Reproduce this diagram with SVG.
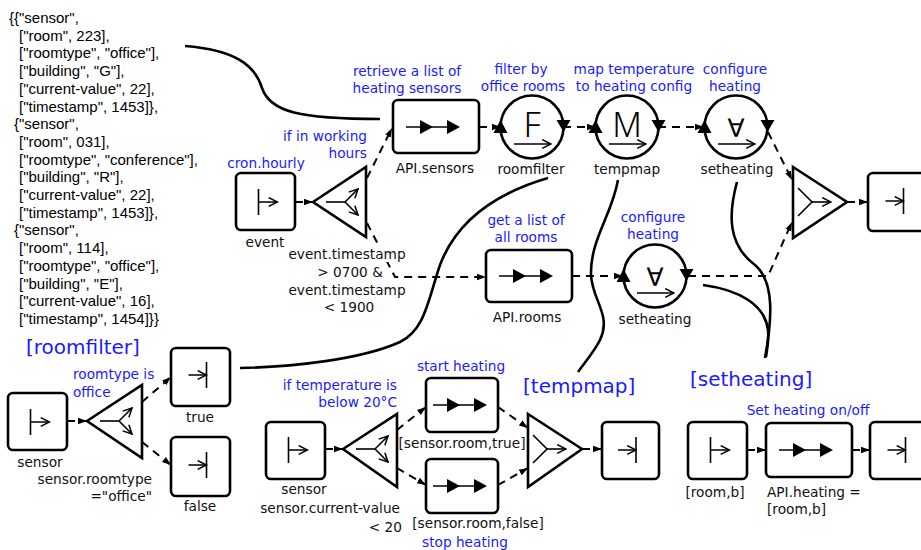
<svg xmlns="http://www.w3.org/2000/svg" width="921" height="550" viewBox="0 0 921 550">
<style>
.box{fill:#fff;stroke:#000;stroke-width:2.6}
.shp{fill:#fff;stroke:#000;stroke-width:2.6;stroke-linejoin:miter}
.ic{fill:none;stroke:#000;stroke-width:1.6}
.dash{fill:none;stroke:#000;stroke-width:2;stroke-dasharray:8 6;marker-end:url(#ah)}
.curve{fill:none;stroke:#000;stroke-width:2.6}
.lbl{font-family:"DejaVu Sans","Liberation Sans",sans-serif;font-size:13.7px;fill:#111}
.blue{fill:#1a1aff}
.ttl{font-family:"DejaVu Sans","Liberation Sans",sans-serif;font-size:20px;fill:#1a1aff}
.mid{text-anchor:middle}
.end{text-anchor:end}
.big{font-family:"Noto Sans","DejaVu Sans",sans-serif;font-weight:300;font-size:34px;fill:#000;text-anchor:middle}
.fa{font-family:"DejaVu Sans",sans-serif;font-weight:normal;font-size:25px;fill:#000;text-anchor:middle}
.data{font-family:"Liberation Sans",Arial,sans-serif;font-size:15px;fill:#000}
</style>
<defs>
<marker id="ah" viewBox="0 0 10 10" refX="10" refY="5" markerWidth="9" markerHeight="9" markerUnits="userSpaceOnUse" orient="auto"><path d="M0,1.5 L10,5 L0,8.5 z" fill="#000"/></marker>
<marker id="oa" viewBox="0 0 10 10" refX="9" refY="5" markerWidth="11" markerHeight="11" markerUnits="userSpaceOnUse" orient="auto"><path d="M1,1 L9,5 L1,9" fill="none" stroke="#000" stroke-width="1.4"/></marker>
<g id="i-start"><path class="ic" d="M-7,-13 V13 M-7,0 H12" marker-end="url(#oa)"/></g>
<g id="i-end"><path class="ic" d="M6,-13 V13 M-12,0 H6" marker-end="url(#oa)"/></g>
<g id="i-proc"><path class="ic" d="M-30,0 H22"/><polygon points="-16,-7 -3,0 -16,7" fill="#000"/><polygon points="11,-7 24,0 11,7" fill="#000"/></g>
<g id="i-split"><path class="ic" d="M13,0 H32"/><path class="ic" d="M32,0 L45,-13" marker-end="url(#oa)"/><path class="ic" d="M32,0 L45,13" marker-end="url(#oa)"/></g>
<g id="i-merge"><path class="ic" d="M5,-14 L19,0 L5,14"/><path class="ic" d="M19,0 H38" marker-end="url(#oa)"/></g>
<g id="loop"><circle r="31.5" fill="#fff" stroke="#000" stroke-width="2.6"/><polygon points="-38.5,6 -24.5,6 -31.5,-7" fill="#000"/><polygon points="24.5,-7 38.5,-7 31.5,5" fill="#000"/><path class="ic" d="M-18,17 H19" marker-end="url(#oa)"/></g>
</defs>
<rect width="921" height="550" fill="#fff"/>

<g id="data">
<text class="data" x="9" y="23">{{"sensor",</text>
<text class="data" x="19" y="40.7">["room", 223],</text>
<text class="data" x="19" y="58.4">["roomtype", "office"],</text>
<text class="data" x="19" y="76.1">["building", "G"],</text>
<text class="data" x="19" y="93.8">["current-value", 22],</text>
<text class="data" x="19" y="111.5">["timestamp", 1453]},</text>
<text class="data" x="14" y="129.2">{"sensor",</text>
<text class="data" x="19" y="146.9">["room", 031],</text>
<text class="data" x="19" y="164.6">["roomtype", "conference"],</text>
<text class="data" x="19" y="182.3">["building", "R"],</text>
<text class="data" x="19" y="200">["current-value", 22],</text>
<text class="data" x="19" y="217.7">["timestamp", 1453]},</text>
<text class="data" x="14" y="235.4">{"sensor",</text>
<text class="data" x="19" y="253.1">["room", 114],</text>
<text class="data" x="19" y="270.8">["roomtype", "office"],</text>
<text class="data" x="19" y="288.5">["building", "E"],</text>
<text class="data" x="19" y="306.2">["current-value", 16],</text>
<text class="data" x="19" y="323.9">["timestamp", 1454]}}</text>
</g>

<g id="connectors">
<g id="flows">
<path class="dash" d="M295,202 L313,202"/>
<path class="dash" d="M367,178 L392,128"/>
<path class="dash" d="M367,223 L395,277 L486,277"/>
<path class="dash" d="M479,127 L501,127"/>
<path class="dash" d="M563,127 L596,127"/>
<path class="dash" d="M658,127 L704,127"/>
<path class="dash" d="M768,132 L792,180"/>
<path class="dash" d="M572,276 L623,276"/>
<path class="dash" d="M688,276 L768,276 L792,222"/>
<path class="dash" d="M847,202 L868,202"/>
<path class="dash" d="M67,421 L87,421"/>
<path class="dash" d="M142,402 L171,377"/>
<path class="dash" d="M142,442 L171,465"/>
<path class="dash" d="M325,449 L343,449"/>
<path class="dash" d="M397,430 L426,407"/>
<path class="dash" d="M397,468 L426,485"/>
<path class="dash" d="M498,407 L528,428"/>
<path class="dash" d="M498,485 L528,468"/>
<path class="dash" d="M582,449 L602,449"/>
<path class="dash" d="M747,450 L766,450"/>
<path class="dash" d="M852,450 L870,450"/>
</g>
<g id="links">
<path class="curve" d="M185,46 C235,50 255,65 262,88 C270,112 300,119 380,119"/>
<path class="curve" d="M548,178 C490,195 455,225 440,265 C428,300 425,330 400,342 C360,360 290,367 240,368"/>
<path class="curve" d="M618,180 C612,215 590,240 591,275 C592,300 612,315 600,340 C594,352 585,362 578,372"/>
<path class="curve" d="M737,182 C728,215 728,245 755,265 C775,282 772,320 765,358"/>
<path class="curve" d="M703,285 C740,290 765,305 768,330 C769,340 767,350 766,357"/>
</g>
</g>

<g id="event">
<rect class="box" x="236" y="173" width="59" height="57" rx="5"/>
<use href="#i-start" x="265.5" y="202"/>
<text class="lbl blue mid" x="266" y="168">cron.hourly</text>
<text class="lbl mid" x="265" y="247">event</text>
</g>
<g id="working-hours">
<polygon class="shp" points="313,202 366,167 366,237"/>
<use href="#i-split" x="313" y="202"/>
<text class="lbl blue end" x="367" y="141">if in working</text>
<text class="lbl blue end" x="367" y="158">hours</text>
<rect x="288" y="246" width="117" height="16" fill="#fff"/>
<text class="lbl mid" x="347" y="259">event.timestamp</text>
<text class="lbl mid" x="350" y="277">&gt; 0700 &amp;</text>
<text class="lbl mid" x="347" y="295">event.timestamp</text>
<text class="lbl mid" x="349" y="312">&lt; 1900</text>
</g>
<g id="api-sensors">
<rect class="box" x="393" y="100" width="86" height="53" rx="5"/>
<use href="#i-proc" x="436" y="127"/>
<text class="lbl blue mid" x="407" y="76">retrieve a list of</text>
<text class="lbl blue mid" x="407" y="93">heating sensors</text>
<text class="lbl mid" x="435" y="173">API.sensors</text>
</g>
<g id="roomfilter">
<use href="#loop" x="532" y="127"/>
<text class="big" x="532" y="137">F</text>
<text class="lbl blue mid" x="521" y="74">filter by</text>
<text class="lbl blue mid" x="523" y="91">office rooms</text>
<text class="lbl mid" x="531" y="174">roomfilter</text>
</g>
<g id="tempmap">
<use href="#loop" x="627" y="127"/>
<text class="big" x="627" y="137">M</text>
<text class="lbl blue mid" x="634" y="74">map temperature</text>
<text class="lbl blue mid" x="634" y="91">to heating config</text>
<text class="lbl mid" x="627" y="174">tempmap</text>
</g>
<g id="setheating">
<use href="#loop" x="736" y="127"/>
<text class="fa" x="736" y="137">∀</text>
<text class="lbl blue mid" x="735" y="74">configure</text>
<text class="lbl blue mid" x="735" y="91">heating</text>
<text class="lbl mid" x="737" y="174">setheating</text>
</g>
<g id="merge-top">
<polygon class="shp" points="793,167 847,202 793,238"/>
<use href="#i-merge" x="793" y="202"/>
</g>
<g id="end-top">
<rect class="box" x="868" y="173" width="60" height="58" rx="5"/>
<use href="#i-end" x="897.5" y="201"/>
</g>
<g id="api-rooms">
<rect class="box" x="486" y="250" width="86" height="52" rx="5"/>
<use href="#i-proc" x="529" y="276"/>
<text class="lbl blue mid" x="526" y="225">get a list of</text>
<text class="lbl blue mid" x="526" y="242">all rooms</text>
<text class="lbl mid" x="527" y="322">API.rooms</text>
</g>
<g id="setheating-2">
<use href="#loop" x="655" y="276"/>
<text class="fa" x="655" y="286">∀</text>
<text class="lbl blue mid" x="653" y="222">configure</text>
<text class="lbl blue mid" x="653" y="239">heating</text>
<text class="lbl mid" x="655" y="324">setheating</text>
</g>

<g id="sub-roomfilter">
<text class="ttl" x="26" y="354">[roomfilter]</text>
<g id="rf-sensor">
<rect class="box" x="8" y="393" width="59" height="57" rx="5"/>
<use href="#i-start" x="37.5" y="422"/>
<text class="lbl mid" x="40" y="467">sensor</text>
</g>
<g id="rf-split">
<polygon class="shp" points="87,421 142,385 142,458"/>
<use href="#i-split" x="87" y="421"/>
<text class="lbl blue" x="73" y="379">roomtype is</text>
<text class="lbl blue" x="73" y="397">office</text>
<text class="lbl end" x="152" y="484">sensor.roomtype</text>
<text class="lbl end" x="152" y="501">="office"</text>
</g>
<g id="rf-true">
<rect class="box" x="171" y="348" width="59" height="58" rx="5"/>
<use href="#i-end" x="200.5" y="375"/>
<text class="lbl mid" x="200" y="422">true</text>
</g>
<g id="rf-false">
<rect class="box" x="171" y="437" width="59" height="59" rx="5"/>
<use href="#i-end" x="200.5" y="465"/>
<text class="lbl mid" x="200" y="511">false</text>
</g>
</g>

<g id="sub-tempmap">
<text class="ttl" x="523" y="393">[tempmap]</text>
<g id="tm-sensor">
<rect class="box" x="266" y="422" width="59" height="57" rx="5"/>
<use href="#i-start" x="295.5" y="450"/>
<text class="lbl mid" x="304" y="494">sensor</text>
</g>
<g id="tm-split">
<polygon class="shp" points="343,449 397,414 397,487"/>
<use href="#i-split" x="343" y="449"/>
<text class="lbl blue end" x="397" y="390">if temperature is</text>
<text class="lbl blue end" x="397" y="407">below 20°C</text>
<text class="lbl end" x="400" y="513">sensor.current-value</text>
<text class="lbl end" x="402" y="532">&lt; 20</text>
</g>
<g id="tm-start">
<rect class="box" x="426" y="378" width="72" height="54" rx="5"/>
<use href="#i-proc" x="463" y="405"/>
<text class="lbl blue mid" x="461" y="371">start heating</text>
<text class="lbl mid" x="462" y="448">[sensor.room,true]</text>
</g>
<g id="tm-stop">
<rect class="box" x="426" y="459" width="72" height="54" rx="5"/>
<use href="#i-proc" x="463" y="486"/>
<text class="lbl mid" x="478" y="528">[sensor.room,false]</text>
<text class="lbl blue mid" x="465" y="547">stop heating</text>
</g>
<g id="tm-merge">
<polygon class="shp" points="528,414 582,449 528,487"/>
<use href="#i-merge" x="528" y="449"/>
</g>
<g id="tm-end">
<rect class="box" x="602" y="422" width="57" height="57" rx="5"/>
<use href="#i-end" x="630" y="450"/>
</g>
</g>

<g id="sub-setheating">
<text class="ttl" x="690" y="386">[setheating]</text>
<g id="sh-start">
<rect class="box" x="688" y="422" width="59" height="57" rx="5"/>
<use href="#i-start" x="717.5" y="450"/>
<text class="lbl mid" x="715" y="497">[room,b]</text>
</g>
<g id="sh-api">
<rect class="box" x="766" y="423" width="86" height="54" rx="5"/>
<use href="#i-proc" x="809" y="450"/>
<text class="lbl blue mid" x="808" y="415">Set heating on/off</text>
<text class="lbl" x="767" y="497">API.heating =</text>
<text class="lbl" x="767" y="514">[room,b]</text>
</g>
<g id="sh-end">
<rect class="box" x="870" y="422" width="60" height="57" rx="5"/>
<use href="#i-end" x="899.5" y="450"/>
</g>
</g>
</svg>
